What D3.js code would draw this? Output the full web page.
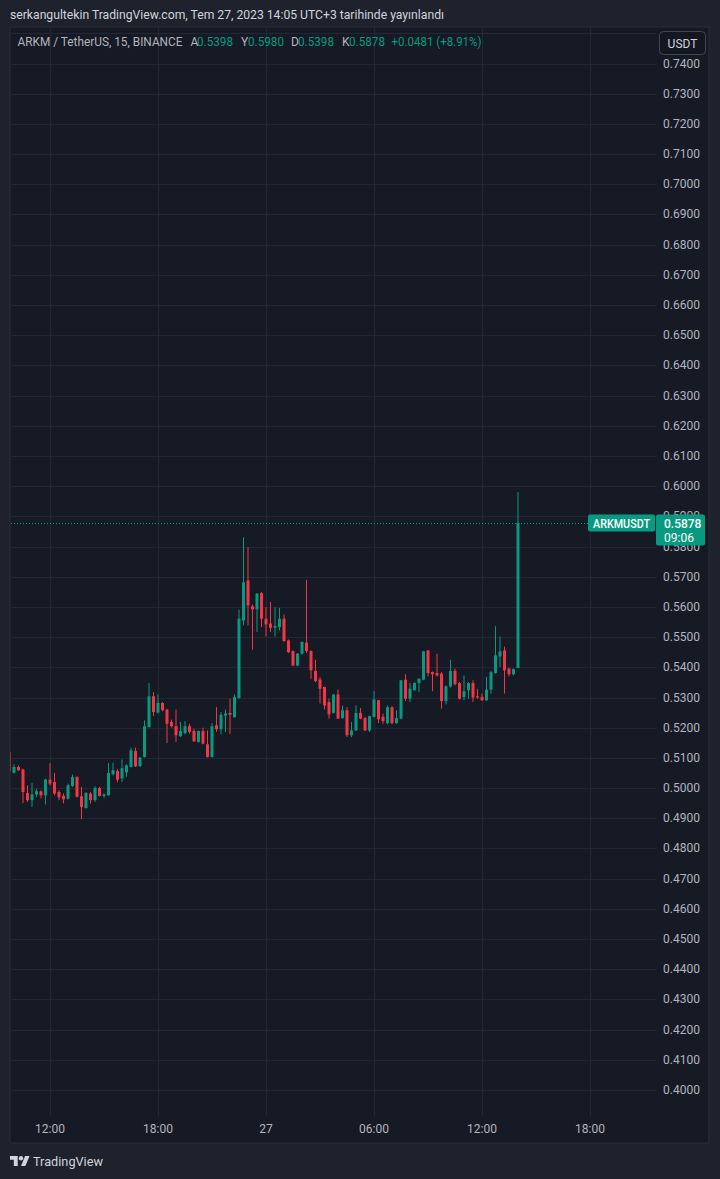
<!DOCTYPE html>
<html><head><meta charset="utf-8">
<script src="https://cdn.jsdelivr.net/npm/d3@7"></script>
<style>
html,body{margin:0;padding:0;background:#1e222d;}
svg{display:block;}
text{font-family:Roboto,"Liberation Sans",sans-serif;}
</style></head>
<body>
<svg id="c" width="720" height="1179"></svg>
<script>
// ---- data (15 min ARKM/USDT candles) ----
const startTime = "2023-07-26T09:45:00Z";
const opens = [0.5120,0.5051,0.5070,0.5062,0.4984,0.4960,0.4979,0.4989,0.4976,0.5028,
0.5020,0.4987,0.4974,0.4965,0.5007,0.5037,0.4973,0.4934,0.4982,0.4960,
0.5000,0.4974,0.4976,0.5046,0.5057,0.5032,0.5052,0.5070,0.5123,0.5073,
0.5103,0.5202,0.5304,0.5250,0.5282,0.5260,0.5219,0.5205,0.5172,0.5182,
0.5205,0.5189,0.5153,0.5189,0.5145,0.5103,0.5208,0.5195,0.5240,0.5249,
0.5235,0.5298,0.5555,0.5688,0.5602,0.5592,0.5646,0.5561,0.5545,0.5531,
0.5533,0.5561,0.5489,0.5454,0.5406,0.5445,0.5482,0.5454,0.5388,0.5360,
0.5335,0.5285,0.5249,0.5310,0.5232,0.5258,0.5175,0.5191,0.5249,0.5232,
0.5191,0.5236,0.5291,0.5236,0.5215,0.5268,0.5215,0.5230,0.5359,0.5296,
0.5324,0.5348,0.5359,0.5456,0.5384,0.5381,0.5379,0.5288,0.5337,0.5388,
0.5348,0.5302,0.5324,0.5348,0.5304,0.5302,0.5291,0.5326,0.5381,0.5436,
0.5456,0.5396,0.5377,0.5398];
const highs = [0.5132,0.5079,0.5075,0.5064,0.5009,0.5017,0.4998,0.4993,0.5031,0.5083,
0.5050,0.4993,0.4982,0.5015,0.5045,0.5039,0.5004,0.4986,0.4987,0.5006,
0.5004,0.4982,0.5083,0.5084,0.5063,0.5095,0.5079,0.5134,0.5134,0.5103,
0.5224,0.5348,0.5318,0.5310,0.5285,0.5263,0.5227,0.5260,0.5219,0.5222,
0.5213,0.5197,0.5191,0.5200,0.5191,0.5215,0.5268,0.5252,0.5260,0.5296,
0.5310,0.5591,0.5831,0.5798,0.5608,0.5646,0.5649,0.5599,0.5616,0.5599,
0.5597,0.5575,0.5492,0.5456,0.5447,0.5486,0.5690,0.5456,0.5425,0.5368,
0.5336,0.5296,0.5311,0.5327,0.5274,0.5268,0.5219,0.5274,0.5265,0.5236,
0.5240,0.5321,0.5292,0.5247,0.5274,0.5271,0.5258,0.5358,0.5377,0.5348,
0.5350,0.5364,0.5454,0.5457,0.5386,0.5445,0.5384,0.5340,0.5425,0.5396,
0.5351,0.5373,0.5351,0.5357,0.5329,0.5313,0.5368,0.5388,0.5536,0.5502,
0.5469,0.5399,0.5396,0.5980];
const lows = [0.5052,0.5048,0.5057,0.4951,0.4954,0.4937,0.4971,0.4965,0.4946,0.5009,
0.4976,0.4960,0.4949,0.4962,0.5004,0.4969,0.4897,0.4932,0.4949,0.4954,
0.4972,0.4967,0.4975,0.5042,0.5019,0.5020,0.5037,0.5068,0.5070,0.5070,
0.5101,0.5200,0.5239,0.5247,0.5255,0.5149,0.5200,0.5153,0.5169,0.5178,
0.5180,0.5153,0.5150,0.5145,0.5101,0.5101,0.5186,0.5178,0.5186,0.5180,
0.5233,0.5296,0.5539,0.5539,0.5458,0.5517,0.5533,0.5502,0.5517,0.5502,
0.5522,0.5484,0.5447,0.5404,0.5404,0.5442,0.5447,0.5362,0.5351,0.5280,
0.5260,0.5230,0.5247,0.5229,0.5230,0.5169,0.5169,0.5189,0.5228,0.5189,
0.5186,0.5234,0.5215,0.5213,0.5211,0.5211,0.5213,0.5228,0.5288,0.5285,
0.5323,0.5318,0.5357,0.5370,0.5321,0.5370,0.5263,0.5277,0.5333,0.5340,
0.5293,0.5291,0.5296,0.5285,0.5296,0.5289,0.5289,0.5313,0.5379,0.5401,
0.5313,0.5370,0.5373,0.5398];
const closes = [0.5056,0.5070,0.5059,0.4987,0.4960,0.4979,0.4990,0.4976,0.5028,0.5015,
0.4982,0.4969,0.4963,0.5009,0.5037,0.4971,0.4937,0.4984,0.4960,0.5000,
0.4974,0.4979,0.5050,0.5059,0.5028,0.5066,0.5075,0.5125,0.5072,0.5101,
0.5205,0.5304,0.5252,0.5282,0.5258,0.5213,0.5205,0.5175,0.5189,0.5205,
0.5186,0.5155,0.5189,0.5147,0.5103,0.5205,0.5195,0.5243,0.5247,0.5243,
0.5302,0.5561,0.5682,0.5605,0.5592,0.5644,0.5561,0.5542,0.5531,0.5537,
0.5561,0.5487,0.5450,0.5406,0.5445,0.5484,0.5454,0.5390,0.5354,0.5329,
0.5274,0.5244,0.5310,0.5230,0.5258,0.5175,0.5191,0.5249,0.5230,0.5191,
0.5238,0.5294,0.5228,0.5222,0.5268,0.5215,0.5232,0.5357,0.5296,0.5329,
0.5348,0.5362,0.5453,0.5381,0.5377,0.5373,0.5288,0.5337,0.5388,0.5344,
0.5296,0.5321,0.5348,0.5300,0.5300,0.5291,0.5326,0.5384,0.5440,0.5453,
0.5390,0.5377,0.5394,0.5878];
const priceTicks = d3.range(40, 75).map(v => v / 100);
const timeTicks = ["2023-07-26T12:00:00Z","2023-07-26T18:00:00Z","2023-07-27T00:00:00Z",
                   "2023-07-27T06:00:00Z","2023-07-27T12:00:00Z","2023-07-27T18:00:00Z"];
const timeTickLabels = ["12:00","18:00","27","06:00","12:00","18:00"];
const lastPrice = 0.5878;
const symbol = "ARKMUSDT";
const countdown = "09:06";
const headerText = "serkangultekin TradingView.com, Tem 27, 2023 14:05 UTC+3 tarihinde yayınlandı";
const legendTitle = "ARKM / TetherUS, 15, BINANCE";
const legendKeys = ["A","Y","D","K"];
const legendVals = ["0.5398","0.5980","0.5398","0.5878"];
const legendChange = "+0.0481 (+8.91%)";

// ---- drawing ----
const UP = "#089981", DOWN = "#f23645";
const GRID = "#232733", PANE = "#161a25", TXT = "#b2b5be";
const svg = d3.select("#c");
const t0 = new Date(startTime);
const candles = opens.map((o, i) => ({
  t: new Date(t0.getTime() + i * 15 * 60000), o, h: highs[i], l: lows[i], c: closes[i]
}));

const pane = {x0: 10, x1: 656, y0: 27, y1: 1116, right: 709, bottom: 1143};
const x = d3.scaleUtc()
  .domain([t0, new Date(timeTicks[5])])
  .range([9.5, 590]);
const y = d3.scaleLinear().domain([0.40, 0.74]).range([1090, 63.5]);

svg.append("rect").attr("x", pane.x0).attr("y", pane.y0)
  .attr("width", pane.right - pane.x0).attr("height", pane.bottom - pane.y0)
  .attr("fill", PANE).attr("stroke", "#2a2e39").attr("stroke-width", 1);

svg.append("defs").append("clipPath").attr("id", "plot")
  .append("rect").attr("x", pane.x0 + 0.5).attr("y", pane.y0)
  .attr("width", pane.x1 - pane.x0).attr("height", pane.y1 - pane.y0);

// grid
const g = svg.append("g");
g.selectAll(".hg").data(priceTicks.concat([0.75])).join("line")
  .attr("x1", pane.x0 + 1).attr("x2", pane.x1)
  .attr("y1", d => Math.round(y(d)) + 0.5).attr("y2", d => Math.round(y(d)) + 0.5)
  .attr("stroke", GRID);
g.selectAll(".vg").data(timeTicks).join("line")
  .attr("x1", d => Math.round(x(new Date(d))) + 0.5).attr("x2", d => Math.round(x(new Date(d))) + 0.5)
  .attr("y1", pane.y0 + 1).attr("y2", pane.y1)
  .attr("stroke", GRID);

// candles
const cg = svg.append("g").attr("clip-path", "url(#plot)");
const bw = 3;
cg.selectAll(".wick").data(candles).join("line")
  .attr("x1", d => x(d.t)).attr("x2", d => x(d.t))
  .attr("y1", d => y(d.h)).attr("y2", d => y(d.l))
  .attr("stroke", d => d.c >= d.o ? UP : DOWN).attr("stroke-width", 1);
cg.selectAll(".body").data(candles).join("rect")
  .attr("x", d => x(d.t) - bw / 2).attr("width", bw)
  .attr("y", d => y(Math.max(d.o, d.c)))
  .attr("height", d => Math.max(1, Math.abs(y(d.o) - y(d.c))))
  .attr("fill", d => d.c >= d.o ? UP : DOWN);

// last price dotted line
svg.append("line").attr("x1", pane.x0 + 1).attr("x2", pane.x1)
  .attr("y1", Math.round(y(lastPrice)) + 0.5).attr("y2", Math.round(y(lastPrice)) + 0.5)
  .attr("stroke", UP).attr("stroke-dasharray", "1,2");

// price axis labels
svg.append("g").selectAll("text").data(priceTicks).join("text")
  .attr("x", 700).attr("y", d => y(d) + 4)
  .attr("text-anchor", "end").attr("font-size", 12).attr("fill", TXT)
  .text(d => d.toFixed(4));

// time axis labels
svg.append("g").selectAll("text").data(timeTicks).join("text")
  .attr("x", d => x(new Date(d))).attr("y", 1133)
  .attr("text-anchor", "middle").attr("font-size", 12).attr("fill", TXT)
  .text((d, i) => timeTickLabels[i]);

// last price labels
const ly = y(lastPrice);
svg.append("rect").attr("x", 588).attr("y", ly - 8.5).attr("width", 67).attr("height", 17)
  .attr("rx", 2).attr("fill", UP);
svg.append("text").attr("x", 621.5).attr("y", ly + 4.5).attr("text-anchor", "middle")
  .attr("font-size", 12).attr("font-weight", 500).attr("fill", "#ffffff")
  .attr("textLength", 57).attr("lengthAdjust", "spacingAndGlyphs").text(symbol);
svg.append("rect").attr("x", 656).attr("y", ly - 8.5).attr("width", 49).attr("height", 31)
  .attr("rx", 2).attr("fill", UP);
svg.append("text").attr("x", 664).attr("y", ly + 4.5)
  .attr("font-size", 12).attr("font-weight", 500).attr("fill", "#ffffff").text(lastPrice.toFixed(4));
svg.append("text").attr("x", 664).attr("y", ly + 18.5)
  .attr("font-size", 12).attr("fill", "#ffffff").text(countdown);

// USDT button
svg.append("rect").attr("x", 659.5).attr("y", 31.5).attr("width", 46).attr("height", 23)
  .attr("rx", 4).attr("fill", "#131722").attr("stroke", "#434651");
svg.append("text").attr("x", 682.5).attr("y", 47.5).attr("text-anchor", "middle")
  .attr("font-size", 12).attr("fill", "#d1d4dc").text("USDT");

// header
svg.append("text").attr("x", 10).attr("y", 18.5).attr("font-size", 12)
  .attr("fill", "#d1d4dc").attr("textLength", 434).attr("lengthAdjust", "spacingAndGlyphs")
  .text(headerText);

// legend
svg.append("text").attr("x", 17.5).attr("y", 46).attr("font-size", 12).attr("fill", TXT)
  .attr("textLength", 165).attr("lengthAdjust", "spacingAndGlyphs").text(legendTitle);
const keyX = [190.5, 241, 291, 342];
const valX = [197, 248, 298, 349];
legendKeys.forEach((k, i) => {
  svg.append("text").attr("x", keyX[i]).attr("y", 46).attr("font-size", 12).attr("fill", TXT).text(k);
  svg.append("text").attr("x", valX[i]).attr("y", 46).attr("font-size", 12).attr("fill", UP)
    .attr("textLength", 36).attr("lengthAdjust", "spacingAndGlyphs").text(legendVals[i]);
});
svg.append("text").attr("x", 391.5).attr("y", 46).attr("font-size", 12).attr("fill", UP)
  .attr("textLength", 90).attr("lengthAdjust", "spacingAndGlyphs").text(legendChange);

// TradingView logo
const logo = svg.append("g").attr("transform", "translate(10,1153.8) scale(0.55)").attr("fill", "#d1d4dc");
logo.append("path").attr("d", "M14 22H7V11H0V4h14v18z");
logo.append("circle").attr("cx", 20).attr("cy", 8).attr("r", 4);
logo.append("path").attr("d", "M28 22h-8l7.5-18h8L28 22z");
svg.append("text").attr("x", 33).attr("y", 1166).attr("font-size", 13).attr("fill", "#d1d4dc")
  .attr("textLength", 70).attr("lengthAdjust", "spacingAndGlyphs").text("TradingView");
</script>
</body></html>
